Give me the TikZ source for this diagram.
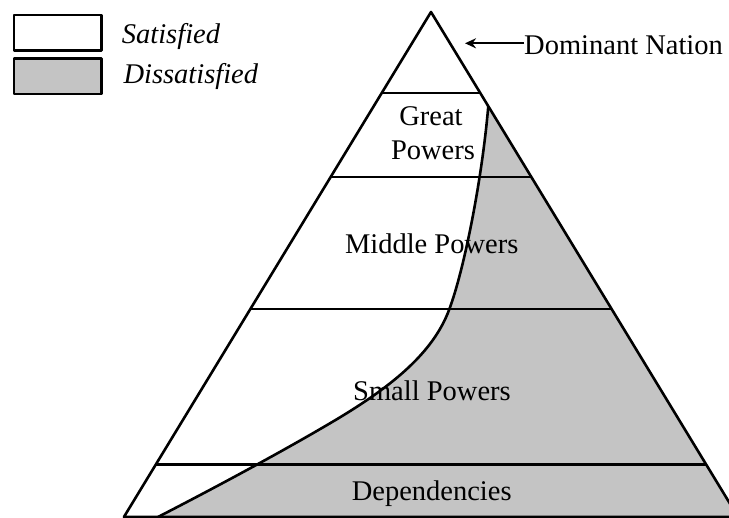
\documentclass[tikz,border=0pt]{standalone}
\usepackage{fontspec}
\setmainfont{Liberation Serif}
\usetikzlibrary{arrows.meta}
\definecolor{disgray}{HTML}{C4C4C4}
\begin{document}
\begin{tikzpicture}[x=1pt,y=-1pt,line join=round,
  edge/.style={line width=2.6pt},
  lbl/.style={font=\fontsize{28.5}{34.3}\selectfont,anchor=base,inner sep=0pt},
  leg/.style={font=\fontsize{28.5}{34.3}\selectfont\itshape,anchor=base west,inner sep=0pt},
  swatch/.style={draw,line width=2.6pt,minimum width=87.7pt,minimum height=35.7pt,inner sep=0pt}]
\useasboundingbox (0,0) rectangle (729,518);
\clip (0,0) rectangle (729,518);
\fill[white] (0,0) rectangle (729,518);
% pyramid corners
\coordinate (apex) at (431,12);
\coordinate (bl) at (123.9,517);
\coordinate (br) at (738.1,517);
% curve key points
\coordinate (c0) at (488.3,106);
\coordinate (c1) at (449.3,309.3);
\coordinate (c2) at (330,423.3);
\coordinate (c3) at (158,517);
% dissatisfied region
\fill[disgray] (c0) .. controls (482,180) and (464,270) .. (c1)
  .. controls (432.7,354.3) and (389.5,388.3) .. (c2)
  .. controls (279,453.3) and (216.2,487) .. (c3) -- (br) -- cycle;
% tier lines
\coordinate (l1a) at (381.8,93);   \coordinate (l1b) at (480.2,93);
\coordinate (l2a) at (330.7,177);  \coordinate (l2b) at (531.3,177);
\coordinate (l3a) at (250.4,309);  \coordinate (l3b) at (611.6,309);
\coordinate (l4a) at (155.9,464.5);\coordinate (l4b) at (706.1,464.5);
\draw[edge] (l1a) -- (l1b);
\draw[edge] (l2a) -- (l2b);
\draw[edge] (l3a) -- (l3b);
\draw[edge] (l4a) -- (l4b);
% dividing curve
\draw[edge] (c0) .. controls (482,180) and (464,270) .. (c1)
  .. controls (432.7,354.3) and (389.5,388.3) .. (c2)
  .. controls (279,453.3) and (216.2,487) .. (c3);
% outline
\draw[edge] (bl) -- (apex) -- (br) -- cycle;
% tier labels
\node[lbl] (great) at (431,125.7) {Great};
\node[lbl] (gpow) at (433,160) {Powers};
\node[lbl] (middle) at (431.7,253.3) {Middle Powers};
\node[lbl] (small) at (432,400.7) {Small Powers};
\node[lbl] (dep) at (431.7,500.7) {Dependencies};
% dominant nation
\node[lbl,anchor=base west] (dom) at (524,55) {Dominant Nation};
\coordinate (tip) at (465,43.3);
\draw[line width=2.2pt,-{Stealth[length=11pt,width=10pt]}] (dom.west |- tip) -- (tip);
% legend
\node[swatch,fill=white] (sat) at (57.85,32.85) {};
\node[swatch,fill=disgray] (dis) at (57.85,76.15) {};
\node[leg] (satl) at (121.7,43.3) {Satisfied};
\node[leg] (disl) at (123.3,83.3) {Dissatisfied};
\end{tikzpicture}
\end{document}
